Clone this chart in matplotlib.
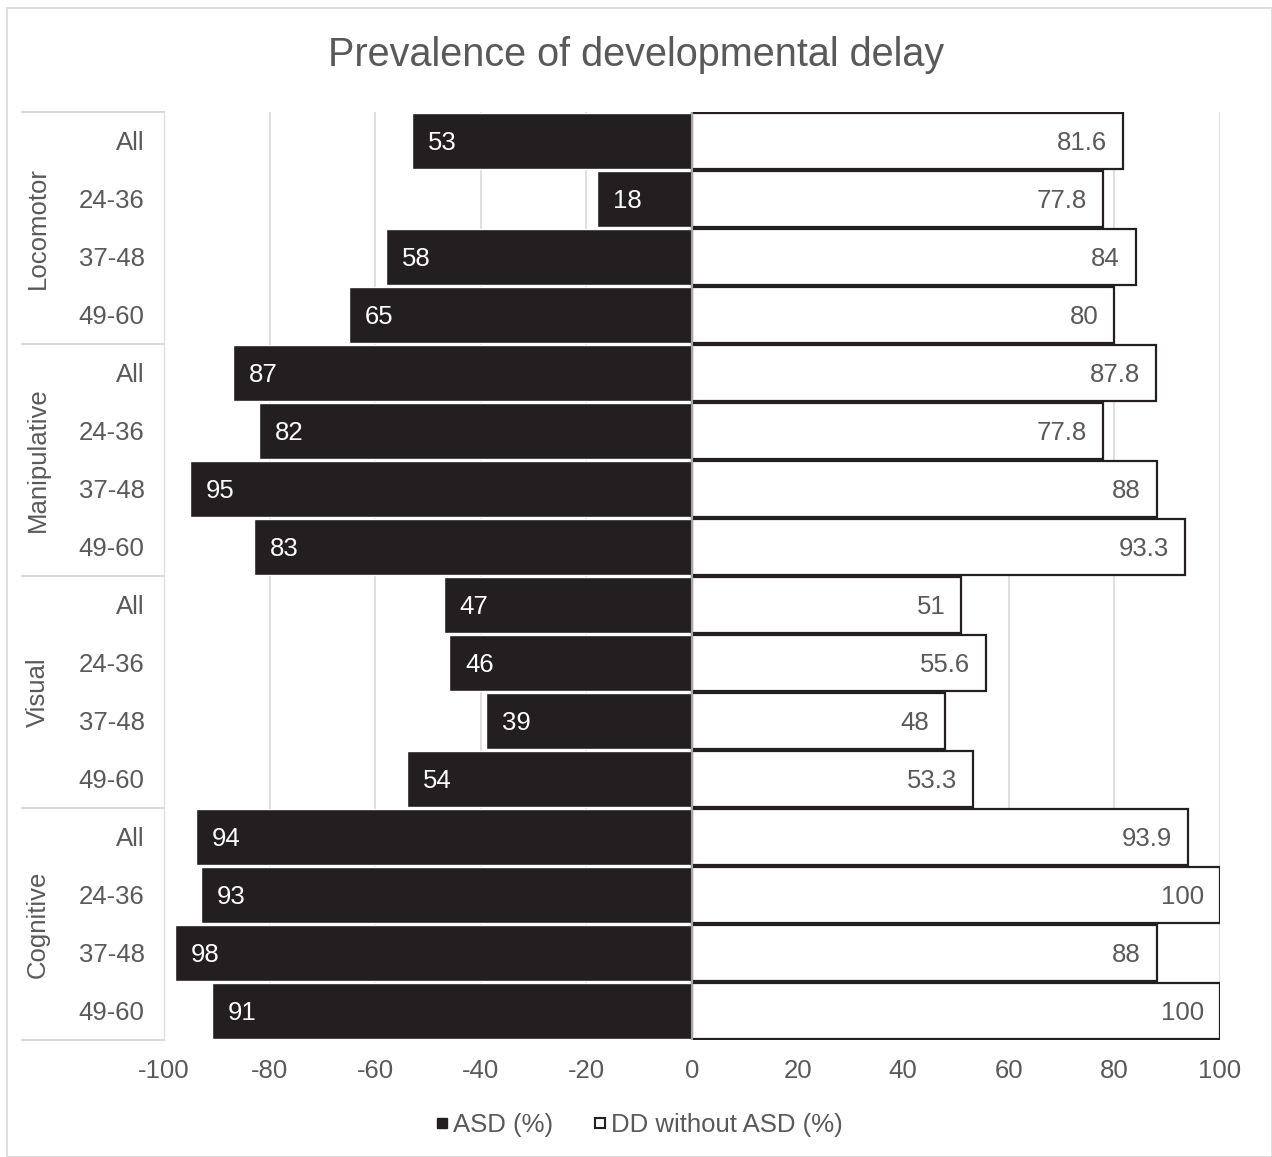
import matplotlib
matplotlib.use("Agg")
import matplotlib.pyplot as plt
import matplotlib.transforms as mtransforms
from matplotlib.patches import Rectangle
from matplotlib.lines import Line2D

plt.rcParams['font.family'] = ['Liberation Sans', 'DejaVu Sans']

groups = ["Locomotor", "Manipulative", "Visual", "Cognitive"]
ages = ["All", "24-36", "37-48", "49-60"]
asd = [53, 18, 58, 65, 87, 82, 95, 83, 47, 46, 39, 54, 94, 93, 98, 91]
dd = [81.6, 77.8, 84, 80, 87.8, 77.8, 88, 93.3, 51, 55.6, 48, 53.3, 93.9, 100, 88, 100]
dd_labels = ["81.6", "77.8", "84", "80", "87.8", "77.8", "88", "93.3", "51", "55.6", "48", "53.3", "93.9", "100", "88", "100"]
xticks = [-100, -80, -60, -40, -20, 0, 20, 40, 60, 80, 100]

W, H = 1272, 1157
fig = plt.figure(figsize=(W/100, H/100), dpi=100)
ax = fig.add_axes([164/W, 1-1040/H, (1220-164)/W, (1040-112)/H])

n = len(asd)
ypos = list(range(n))
gray = "#595959"
black = "#231f20"
fs = 18.5

ax.barh(ypos, [-v for v in asd], height=0.96, color=black, edgecolor="white", linewidth=1.0, zorder=3)
ax.barh(ypos, dd, height=0.96, color="white", edgecolor=black, linewidth=1.6, zorder=3)

for i in range(n):
    ax.text(-asd[i] + 3, i, str(asd[i]), color="white", fontsize=fs, va="center_baseline", ha="left", zorder=4)
    ax.text(dd[i] - 3, i, dd_labels[i], color=gray, fontsize=fs, va="center_baseline", ha="right", zorder=4)

ax.set_xlim(-100, 100)
ax.set_ylim(n - 0.5, -0.5)
ax.set_xticks(xticks)
ax.set_xticklabels([str(t) for t in xticks], color=gray, fontsize=fs)
ax.tick_params(axis="x", length=0, pad=14)
ax.set_yticks(ypos)
ax.set_yticklabels(ages * 4, color=gray, fontsize=fs)
ax.tick_params(axis="y", length=0, pad=14)
ax.grid(axis="x", color="#d9d9d9", linewidth=1.2, zorder=0)
ax.axvline(0, color="#a6a6a6", linewidth=1.5, zorder=5)
for s in ["top", "right", "bottom"]:
    ax.spines[s].set_visible(False)
ax.spines["left"].set_color("#e0e0e0")
ax.spines["left"].set_linewidth(1.0)

# group separators and labels
trans = mtransforms.blended_transform_factory(fig.transFigure, ax.transData)
for k in range(len(groups) + 1):
    yb = k * 4 - 0.5
    ax.add_line(Line2D([22/W, 164/W], [yb, yb], transform=trans, color="#d9d9d9", linewidth=1.5, clip_on=False))
for k, g in enumerate(groups):
    ax.text(38/W, k * 4 + 1.5, g, transform=trans, rotation=90, ha="center", va="center", color=gray, fontsize=fs)

fig.suptitle("Prevalence of developmental delay", x=0.5, y=1-55/H, va="center", color=gray, fontsize=28.5)

handles = [Rectangle((0, 0), 1, 1, facecolor=black, edgecolor=black),
           Rectangle((0, 0), 1, 1, facecolor="white", edgecolor=black, linewidth=1.5)]
leg = fig.legend(handles, ["ASD (%)", "DD without ASD (%)"], loc="center", bbox_to_anchor=(0.503, 1-1125/H),
                 ncol=2, frameon=False, fontsize=fs, handlelength=0.4, handleheight=0.24,
                 handletextpad=0.25, columnspacing=1.6)
for t in leg.get_texts():
    t.set_color(gray)

fig.patches.append(Rectangle((7/W, 0), 1 - 7/W, 1 - 8/H, transform=fig.transFigure, fill=False,
                             edgecolor="#d9d9d9", linewidth=1.2))

fig.savefig("out.png", dpi=100)
